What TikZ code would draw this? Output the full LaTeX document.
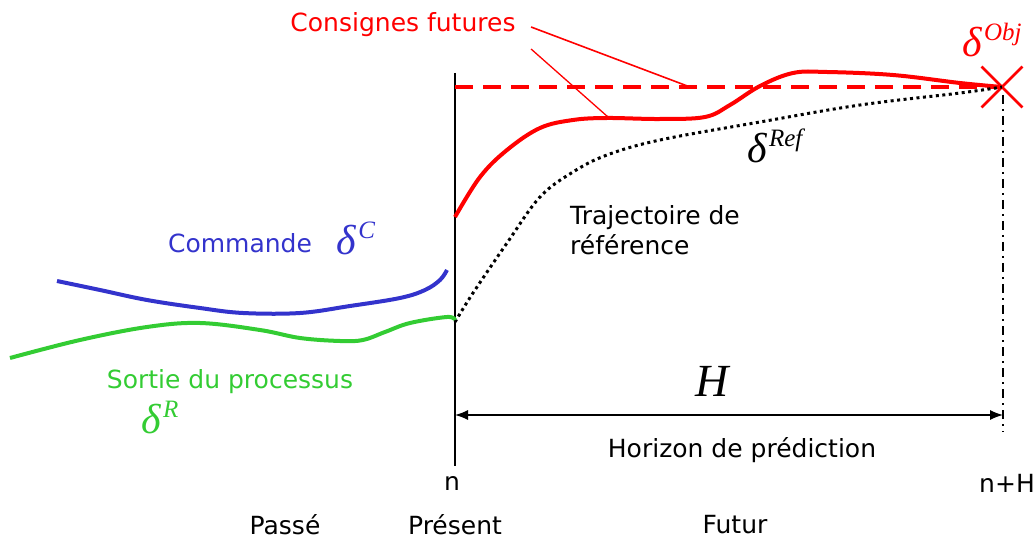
\documentclass[tikz,border=0pt]{standalone}
\usepackage{fontspec}
\setmainfont{DejaVu Sans}
\newfontfamily\dfont{Liberation Serif}
\usetikzlibrary{arrows.meta,shapes.misc}
\definecolor{cmdblue}{RGB}{51,51,204}
\definecolor{outgreen}{RGB}{51,204,51}
\newcommand{\dl}[1]{{\dfont\itshape\fontsize{42}{44}\selectfont δ\kern2pt\raisebox{16pt}{\fontsize{25}{27}\selectfont #1}}}

\begin{document}
\begin{tikzpicture}[x=1pt,y=-1pt,font=\fontsize{25}{30}\selectfont]
  \useasboundingbox (0,0) rectangle (1034,540);
  % axis and horizon
  \node (n) at (452,483) {n};
  \node (nH) at (1007,483) {n+H};
  \coordinate (ntop) at (455,73);
  \draw[line width=1.6pt] (ntop) -- (455,466);
  \node[red,draw,cross out,line width=2.8pt,minimum size=38pt] (obj) at (1002,87) {};
  \draw[line width=1.6pt,dash pattern=on 9pt off 5pt on 2pt off 5pt] (obj.center) ++(1,8) -- (1003,432);
  \coordinate (hl) at (455,415);
  \coordinate (hr) at (1003,415);
  \draw[line width=1.4pt,{Latex[length=13pt,width=10pt]}-{Latex[length=13pt,width=10pt]}] (hl) -- (hr);
  \node (H) at (712,381) {\dfont\itshape\fontsize{46}{48}\selectfont H};
  \node (horizon) at (742,450) {Horizon de prédiction};
  \node (passe) at (285,525) {Passé};
  \node (present) at (455,525) {Présent};
  \node (futur) at (735,525) {Futur};
  % set points
  \draw[red,line width=3.5pt,dash pattern=on 18pt off 10pt] (ntop |- obj) -- (obj.center);
  \draw[red,line width=4pt] plot[smooth,tension=.6] coordinates {(455,217) (480,177) (507,150) (540,128) (573,120) (607,118) (660,119) (705,117) (730,105) (760,86) (793,73) (827,72) (893,75) (960,83) (1002,87)};
  \node[red] (consignes) at (403,25) {Consignes futures};
  \coordinate (dashhit) at (690,87);
  \coordinate (curvehit) at (608,117);
  \draw[red,line width=1.6pt] (consignes.east) ++(12,2) -- (dashhit);
  \draw[red,line width=1.3pt] (consignes.east) ++(12,24) -- (curvehit);
  \node[red] (dobj) at (992,40) {\dl{Obj}};
  % reference
  \draw[line width=3pt,dash pattern=on 3pt off 3.5pt] plot[smooth,tension=.6] coordinates {(455,322) (473,293) (507,243) (540,197) (573,172) (607,155) (660,140) (760,122) (860,105) (960,93) (1002,87)};
  \node (dref) at (775,146) {\dl{Ref}};
  \node[align=left,anchor=west,inner sep=0pt] (traj) at (570,230) {Trajectoire de\\référence};
  % past
  \draw[cmdblue,line width=4pt] plot[smooth,tension=.6] coordinates {(57,281) (100,290) (147,300) (200,308) (243,313) (300,313) (350,306) (400,298) (425,290) (440,280) (447,270)};
  \node[cmdblue] (commande) at (240,243) {Commande};
  \node[cmdblue] (dc) at (356,238) {\dl{C}};
  \draw[outgreen,line width=4pt] plot[smooth,tension=.6] coordinates {(10,358) (80,340) (147,327) (200,323) (260,330) (300,338) (340,341) (363,340) (385,332) (410,323) (447,317) (455,320)};
  \node[outgreen] (sortie) at (230,382) {Sortie du processus};
  \node[outgreen] (dr) at (160,418) {\dl{R}};
\end{tikzpicture}
\end{document}
